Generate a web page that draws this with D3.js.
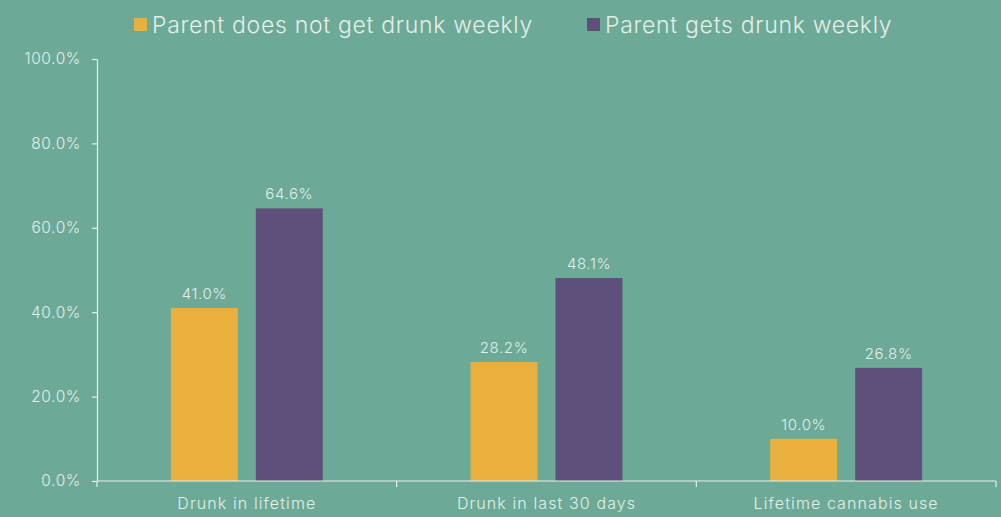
<!DOCTYPE html>
<html>
<head>
<meta charset="utf-8">
<script src="https://cdn.jsdelivr.net/npm/d3@7"></script>
<style>
  html, body { margin: 0; padding: 0; background: #6ca996; }
  svg { display: block; font-family: Inter, "Open Sans", sans-serif; font-weight: 300; }
</style>
</head>
<body>
<svg id="chart" width="1001" height="517"></svg>
<script>
const categories = ["Drunk in lifetime", "Drunk in last 30 days", "Lifetime cannabis use"];
const seriesNames = ["Parent does not get drunk weekly", "Parent gets drunk weekly"];
const notWeekly = [41.0, 28.2, 10.0];
const weekly = [64.6, 48.1, 26.8];
const yTicks = [0, 20, 40, 60, 80, 100];
const seriesColors = ["#e9b03e", "#5f4f7b"];

const series = [notWeekly, weekly];
const textColor = "#e4eee9";
const axisColor = "#e8f0ec";

const svg = d3.select("#chart");
const margin = { left: 97, right: 5, top: 59, bottom: 36 };
const W = 1001, H = 517;

const x = d3.scaleBand().domain(categories).range([margin.left, W - margin.right]).paddingInner(0).paddingOuter(0);
const inner = d3.scaleBand().domain([0, 1]).range([0, x.bandwidth()]).paddingInner(0.212).paddingOuter(0.87);
const y = d3.scaleLinear().domain([0, 100]).range([H - margin.bottom, margin.top]);

// Bars with value labels
categories.forEach((cat, ci) => {
  series.forEach((vals, si) => {
    svg.append("rect")
      .attr("x", x(cat) + inner(si))
      .attr("y", y(vals[ci]))
      .attr("width", inner.bandwidth())
      .attr("height", y(0) - y(vals[ci]))
      .attr("fill", seriesColors[si]);
    svg.append("text")
      .attr("x", x(cat) + inner(si) + inner.bandwidth() / 2)
      .attr("y", y(vals[ci]) - 9)
      .attr("text-anchor", "middle")
      .attr("fill", textColor)
      .attr("font-size", 15)
      .attr("letter-spacing", 0.6)
      .text(vals[ci].toFixed(1) + "%");
  });
});

// Y axis
const yAxis = svg.append("g")
  .attr("transform", `translate(${margin.left},0)`)
  .call(d3.axisLeft(y).tickValues(yTicks).tickSize(5).tickSizeOuter(0).tickPadding(11)
    .tickFormat(d => d.toFixed(1) + "%"));
yAxis.select(".domain").attr("stroke", axisColor).attr("stroke-width", 1.2);
yAxis.selectAll(".tick line").attr("stroke", axisColor).attr("stroke-width", 1.2);
yAxis.selectAll(".tick text").attr("fill", textColor).attr("font-size", 15.5)
  .attr("letter-spacing", 0.6)
  .attr("font-family", "Inter, sans-serif").attr("font-weight", 300);

// X axis with boundary ticks between categories
const xAxisG = svg.append("g").attr("transform", `translate(0,${y(0)})`);
xAxisG.append("line")
  .attr("x1", margin.left).attr("x2", W - margin.right)
  .attr("stroke", axisColor).attr("stroke-width", 1.2);
const boundaries = categories.map(c => x(c)).concat([x(categories[categories.length - 1]) + x.bandwidth()]);
xAxisG.selectAll("line.b").data(boundaries).enter().append("line")
  .attr("class", "b")
  .attr("x1", d => d).attr("x2", d => d).attr("y1", 0).attr("y2", 6)
  .attr("stroke", axisColor).attr("stroke-width", 1.2);
xAxisG.selectAll("text.c").data(categories).enter().append("text")
  .attr("class", "c")
  .attr("x", d => x(d) + x.bandwidth() / 2)
  .attr("y", 28)
  .attr("text-anchor", "middle")
  .attr("fill", textColor)
  .attr("font-size", 16)
  .attr("letter-spacing", 1.1)
  .text(d => d);

// Legend
const legendX = [134, 587];
seriesNames.forEach((name, i) => {
  const g = svg.append("g").attr("transform", `translate(${legendX[i]},0)`);
  g.append("rect").attr("x", 0).attr("y", 18).attr("width", 13).attr("height", 13).attr("fill", seriesColors[i]);
  g.append("text").attr("x", 18).attr("y", 33).attr("fill", textColor)
    .attr("font-size", 23).attr("letter-spacing", 0.7).text(name);
});
</script>
</body>
</html>
